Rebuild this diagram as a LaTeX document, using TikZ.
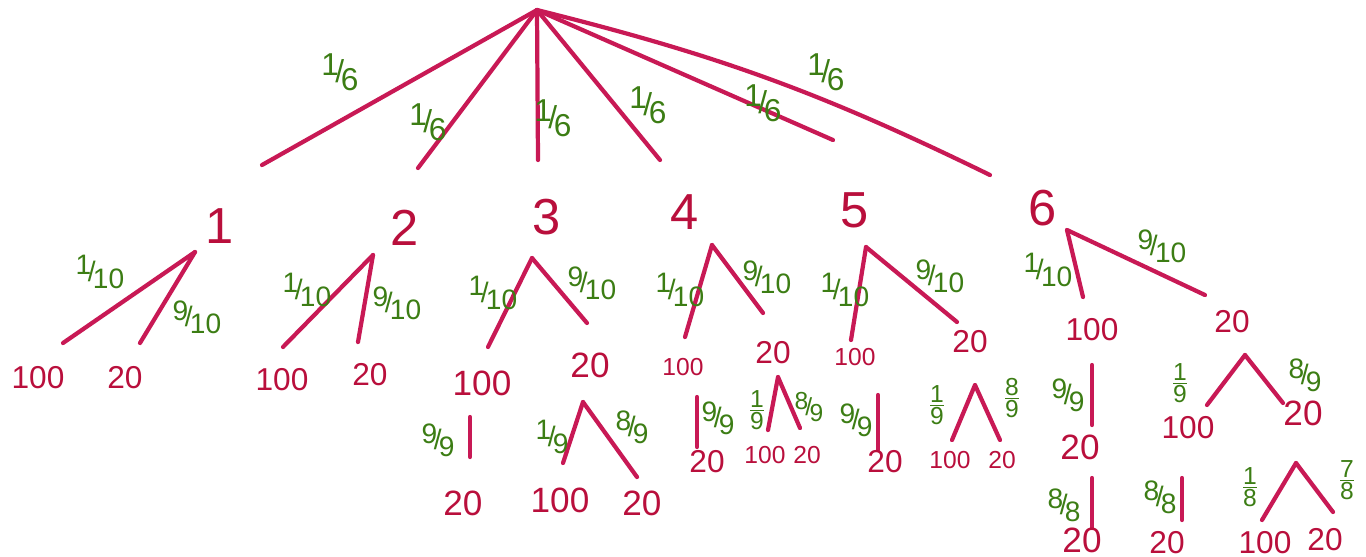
\documentclass[tikz,border=0pt]{standalone}
\usepackage{fontspec}
\setmainfont{Liberation Sans}
\usepackage{tikz}
\usepackage{xcolor}
\definecolor{inkred}{RGB}{200,25,85}
\definecolor{numred}{RGB}{185,15,60}
\definecolor{inkgreen}{RGB}{60,125,20}
\newcommand{\slfrac}[2]{\raisebox{.45ex}{#1}\kern-.12em/\kern-.1em\raisebox{-.45ex}{#2}}
\newcommand{\stfrac}[2]{$\frac{\mbox{#1}}{\mbox{#2}}$}

\begin{document}
\begin{tikzpicture}[
        x=0.01cm, y=-0.01cm,
        br/.style={draw=inkred, line width=1.2pt, line cap=round},
        pr/.style={text=inkgreen, font=\footnotesize, inner sep=1pt},
        prt/.style={pr, font=\small},
        prs/.style={pr, font=\scriptsize},
        val/.style={text=numred, font=\small, inner sep=1pt},
        valb/.style={val, font=\normalsize},
        vals/.style={val, font=\scriptsize},
        die/.style={text=numred, font=\Large, inner sep=1pt}
      ]
        \useasboundingbox (0,0) rectangle (1366,556);

        \coordinate (root) at (537,10);
        \coordinate (e1) at (262,165);
        \coordinate (e2) at (418,168);
        \coordinate (e3) at (538,160);
        \coordinate (e4) at (660,160);
        \coordinate (e5) at (833,140);
        \coordinate (e6) at (990,175);
        \draw[br] (root) -- (e1);
        \draw[br] (root) -- (e2);
        \draw[br] (root) -- (e3);
        \draw[br] (root) -- (e4);
        \draw[br] (root) -- (e5);
        \draw[br] (root) to[bend left=6] (e6);
        \node[prt] (q1) at (340,72) {\slfrac{1}{6}};
        \node[prt] (q2) at (428,122) {\slfrac{1}{6}};
        \node[prt] (q3) at (553,118) {\slfrac{1}{6}};
        \node[prt] (q4) at (648,105) {\slfrac{1}{6}};
        \node[prt] (q5) at (763,103) {\slfrac{1}{6}};
        \node[prt] (q6) at (826,72) {\slfrac{1}{6}};

        \node[die] (d1) at (220,226) {1};
        \node[die] (d2) at (405,228) {2};
        \node[die] (d3) at (547,217) {3};
        \node[die] (d4) at (685,212) {4};
        \node[die] (d5) at (855,210) {5};
        \node[die] (d6) at (1043,208) {6};

        % die 1
        \coordinate (t1) at (195,252);
        \coordinate (t1a) at (63,343);
        \coordinate (t1b) at (140,343);
        \draw[br] (t1) -- (t1a);
        \draw[br] (t1) -- (t1b);
        \node[pr] (q1a) at (100,272) {\slfrac{1}{10}};
        \node[pr] (q1b) at (197,317) {\slfrac{9}{10}};
        \node[val] (v1a) at (38,378) {100};
        \node[val] (v1b) at (125,378) {20};

        % die 2
        \coordinate (t2) at (373,255);
        \coordinate (t2a) at (283,347);
        \coordinate (t2b) at (358,342);
        \draw[br] (t2) -- (t2a);
        \draw[br] (t2) -- (t2b);
        \node[pr] (q2a) at (307,290) {\slfrac{1}{10}};
        \node[pr] (q2b) at (397,303) {\slfrac{9}{10}};
        \node[val] (v2a) at (282,380) {100};
        \node[val] (v2b) at (370,375) {20};

        % die 3
        \coordinate (t3) at (532,258);
        \coordinate (t3a) at (488,347);
        \coordinate (t3b) at (587,323);
        \draw[br] (t3) -- (t3a);
        \draw[br] (t3) -- (t3b);
        \node[pr] (q3a) at (493,293) {\slfrac{1}{10}};
        \node[pr] (q3b) at (592,283) {\slfrac{9}{10}};
        \node[valb] (v3a) at (482,383) {100};
        \node[valb] (v3b) at (590,365) {20};
        \coordinate (u3) at (470,417);
        \coordinate (u3a) at (470,457);
        \draw[br] (u3) -- (u3a);
        \node[pr] (q3c) at (438,440) {\slfrac{9}{9}};
        \node[valb] (v3c) at (463,503) {20};
        \coordinate (t3c) at (583,402);
        \coordinate (t3d) at (563,463);
        \coordinate (t3e) at (637,477);
        \draw[br] (t3c) -- (t3d);
        \draw[br] (t3c) -- (t3e);
        \node[pr] (q3d) at (552,437) {\slfrac{1}{9}};
        \node[pr] (q3e) at (632,427) {\slfrac{8}{9}};
        \node[valb] (v3d) at (560,500) {100};
        \node[valb] (v3e) at (642,503) {20};

        % die 4
        \coordinate (t4) at (712,245);
        \coordinate (t4a) at (685,337);
        \coordinate (t4b) at (763,313);
        \draw[br] (t4) -- (t4a);
        \draw[br] (t4) -- (t4b);
        \node[pr] (q4a) at (680,290) {\slfrac{1}{10}};
        \node[pr] (q4b) at (767,277) {\slfrac{9}{10}};
        \node[vals] (v4a) at (683,367) {100};
        \node[val] (v4b) at (773,353) {20};
        \coordinate (u4) at (697,397);
        \coordinate (u4a) at (697,447);
        \draw[br] (u4) -- (u4a);
        \node[pr] (q4c) at (718,418) {\slfrac{9}{9}};
        \node[val] (v4c) at (707,462) {20};
        \coordinate (t4c) at (778,377);
        \coordinate (t4d) at (768,430);
        \coordinate (t4e) at (800,428);
        \draw[br] (t4c) -- (t4d);
        \draw[br] (t4c) -- (t4e);
        \node[prs] (q4d) at (757,410) {\stfrac{1}{9}};
        \node[prs] (q4e) at (809,407) {\slfrac{8}{9}};
        \node[vals] (v4d) at (765,455) {100};
        \node[vals] (v4e) at (807,455) {20};

        % die 5
        \coordinate (t5) at (866,247);
        \coordinate (t5a) at (851,340);
        \coordinate (t5b) at (957,322);
        \draw[br] (t5) -- (t5a);
        \draw[br] (t5) -- (t5b);
        \node[pr] (q5a) at (845,290) {\slfrac{1}{10}};
        \node[pr] (q5b) at (940,276) {\slfrac{9}{10}};
        \node[vals] (v5a) at (855,357) {100};
        \node[val] (v5b) at (970,342) {20};
        \coordinate (u5) at (878,395);
        \coordinate (u5a) at (878,450);
        \draw[br] (u5) -- (u5a);
        \node[pr] (q5c) at (856,420) {\slfrac{9}{9}};
        \node[val] (v5c) at (885,462) {20};
        \coordinate (t5c) at (975,385);
        \coordinate (t5d) at (952,440);
        \coordinate (t5e) at (1000,440);
        \draw[br] (t5c) -- (t5d);
        \draw[br] (t5c) -- (t5e);
        \node[prs] (q5d) at (937,405) {\stfrac{1}{9}};
        \node[prs] (q5e) at (1012,398) {\stfrac{8}{9}};
        \node[vals] (v5d) at (950,460) {100};
        \node[vals] (v5e) at (1002,460) {20};

        % die 6
        \coordinate (t6) at (1067,230);
        \coordinate (t6a) at (1083,297);
        \coordinate (t6b) at (1205,295);
        \draw[br] (t6) -- (t6a);
        \draw[br] (t6) -- (t6b);
        \node[pr] (q6a) at (1048,270) {\slfrac{1}{10}};
        \node[pr] (q6b) at (1162,246) {\slfrac{9}{10}};
        \node[val] (v6a) at (1092,330) {100};
        \node[val] (v6b) at (1232,322) {20};
        \coordinate (u6) at (1092,365);
        \coordinate (u6a) at (1092,425);
        \draw[br] (u6) -- (u6a);
        \node[pr] (q6c) at (1068,395) {\slfrac{9}{9}};
        \node[valb] (v6c) at (1080,447) {20};
        \coordinate (u6b) at (1092,478);
        \coordinate (u6c) at (1092,528);
        \draw[br] (u6b) -- (u6c);
        \node[pr] (q6d) at (1064,505) {\slfrac{8}{8}};
        \node[valb] (v6d) at (1082,540) {20};
        \coordinate (t6c) at (1245,355);
        \coordinate (t6d) at (1207,405);
        \coordinate (t6e) at (1283,403);
        \draw[br] (t6c) -- (t6d);
        \draw[br] (t6c) -- (t6e);
        \node[prs] (q6e) at (1180,383) {\stfrac{1}{9}};
        \node[pr] (q6f) at (1305,375) {\slfrac{8}{9}};
        \node[val] (v6e) at (1188,428) {100};
        \node[valb] (v6f) at (1303,413) {20};
        \coordinate (u6d) at (1182,478);
        \coordinate (u6e) at (1182,520);
        \draw[br] (u6d) -- (u6e);
        \node[pr] (q6g) at (1160,497) {\slfrac{8}{8}};
        \node[val] (v6g) at (1167,543) {20};
        \coordinate (t6f) at (1296,463);
        \coordinate (t6g) at (1262,520);
        \coordinate (t6h) at (1333,512);
        \draw[br] (t6f) -- (t6g);
        \draw[br] (t6f) -- (t6h);
        \node[prs] (q6h) at (1250,487) {\stfrac{1}{8}};
        \node[prs] (q6i) at (1347,480) {\stfrac{7}{8}};
        \node[val] (v6h) at (1265,543) {100};
        \node[val] (v6i) at (1325,540) {20};
      \end{tikzpicture}
\end{document}
